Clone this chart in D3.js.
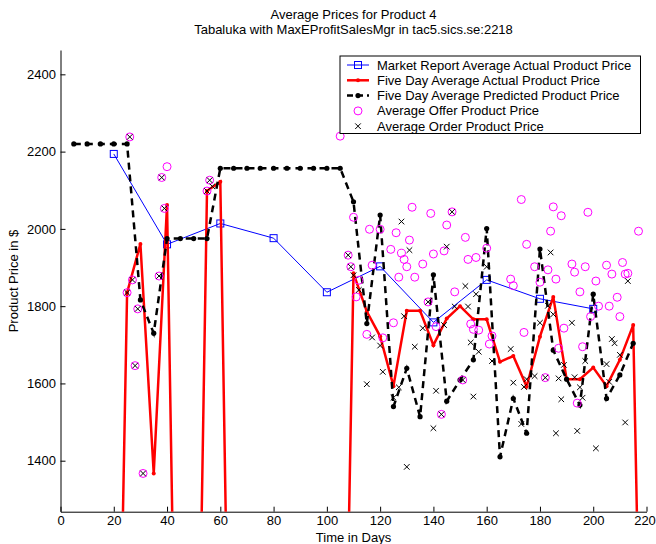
<!DOCTYPE html>
<html>
<head>
<meta charset="utf-8">
<script src="https://cdn.jsdelivr.net/npm/d3@7"></script>
<style>
  body { margin: 0; background: #fff; }
  svg text { font-family: "Liberation Sans", Arial, sans-serif; }
</style>
</head>
<body>
<svg width="656" height="544"></svg>
<script>
// day, price
const marketData = [[20, 2194], [40, 1960], [60, 2014], [80, 1976], [100, 1836],
  [120, 1903], [140, 1758], [160, 1868], [180, 1819], [200, 1793]];

const actualDays = [5, 10, 15, 20, 25, 30, 35, 40, 45, 50, 55, 60, 65, 70, 75, 80, 85, 90, 95, 100, 105,
  110, 115, 120, 125, 130, 135, 140, 145, 150, 155, 160, 165, 170, 175, 180, 185, 190, 195, 200, 205, 210, 215, 220];
const actualPrice = [0, 0, 0, 0, 1835, 1961, 1367, 2062, 0, 0, 2098, 2122, 0, 0, 0, 0, 0, 0, 0, 0, 0,
  1885, 1786, 1722, 1593, 1788, 1788, 1699, 1768, 1800, 1766, 1766, 1656, 1671, 1592, 1721, 1824, 1611, 1611, 1641, 1593, 1661, 1751, 0];

const predDays = [5, 10, 15, 20, 25, 30, 35, 40, 45, 50, 55, 60, 65, 70, 75, 80, 85, 90, 95, 100, 105,
  110, 115, 120, 125, 130, 135, 140, 145, 150, 155, 160, 165, 170, 175, 180, 185, 190, 195, 200, 205, 210, 215];
const predPrice = [2220, 2220, 2220, 2220, 2220, 1816, 1730, 1975, 1975, 1975, 1975, 2157, 2157, 2157, 2157, 2157, 2157, 2157, 2157, 2157, 2157,
  2070, 1755, 2036, 1540, 1639, 1514, 1881, 1554, 1609, 1661, 2001, 1410, 1561, 1471, 1948, 1686, 1611, 1544, 1831, 1561, 1622, 1704];

const offers = [[26, 2238], [40, 2161], [38, 2133], [39, 2053], [56, 2126], [55, 2098], [37, 1878], [27, 1868],
  [25, 1835], [29, 1793], [28, 1646], [31, 1367], [105, 2240], [108, 1932], [109, 1902], [110, 2030], [112, 1867],
  [111, 1824], [116, 1999], [120, 1999], [117, 1906], [124, 1947], [126, 1990], [132, 2056], [131, 1971], [128, 1937],
  [129, 1921], [130, 1902], [127, 1875], [133, 1875], [136, 1909], [139, 2040], [147, 2044], [145, 2010], [144, 1943],
  [140, 1935], [152, 1978], [153, 1921], [156, 1926], [160, 1950], [148, 1837], [138, 1811], [125, 1757], [115, 1727],
  [121, 1718], [141, 1747], [154, 1754], [155, 1740], [157, 1738], [161, 1702], [151, 1609], [143, 1520], [173, 2076],
  [185, 2057], [188, 2034], [198, 2043], [217, 1994], [184, 1994], [175, 1960], [178, 1902], [183, 1894], [186, 1870],
  [180, 1862], [192, 1909], [197, 1902], [193, 1888], [205, 1906], [211, 1913], [207, 1883], [212, 1883], [213, 1885],
  [201, 1865], [169, 1870], [170, 1853], [195, 1837], [209, 1823], [202, 1800], [206, 1800], [210, 1773], [199, 1773],
  [189, 1743], [174, 1732], [162, 1723], [187, 1691], [196, 1695], [182, 1615], [194, 1549]];

const orders = [[26, 2238], [38, 2133], [39, 2053], [56, 2126], [55, 2098], [57, 2110], [37, 1878], [27, 1868],
  [25, 1835], [29, 1793], [28, 1646], [31, 1367], [108, 1932], [109, 1902], [147, 2044], [138, 1811], [151, 1609],
  [143, 1520], [182, 1615], [110, 1880], [112, 1842], [128, 2019], [131, 1945], [145, 1954], [160, 1902], [152, 1852],
  [156, 1831], [129, 1774], [117, 1719], [120, 1698], [136, 1743], [133, 1695], [144, 1751], [148, 1799], [153, 1799],
  [154, 1706], [157, 1682], [121, 1630], [115, 1598], [127, 1590], [125, 1563], [141, 1581], [155, 1566], [140, 1484],
  [130, 1384], [184, 1939], [213, 1865], [183, 1801], [185, 1779], [180, 1757], [192, 1757], [169, 1689], [162, 1658],
  [207, 1715], [208, 1704], [210, 1674], [205, 1650], [197, 1658], [189, 1648], [178, 1619], [187, 1613], [170, 1602],
  [175, 1611], [174, 1591], [193, 1616], [195, 1590], [196, 1563], [188, 1559], [206, 1604], [173, 1495], [186, 1471],
  [194, 1477], [201, 1432], [212, 1499]];

const xTicks = [0, 20, 40, 60, 80, 100, 120, 140, 160, 180, 200, 220];
const yTicks = [1400, 1600, 1800, 2000, 2200, 2400];

const legendLabels = ["Market Report Average Actual Product Price", "Five Day Average Actual Product Price",
  "Five Day Average Predicted Product Price", "Average Offer Product Price", "Average Order Product Price"];

const svg = d3.select("svg");
const pLeft = 60.5, pRight = 646.5, pTop = 50, pBottom = 511.7;
const fs = "13px";

const x = d3.scaleLinear().domain([0, 220]).range([pLeft, pRight]);
const y = d3.scaleLinear().domain([1268, 2463]).range([pBottom, pTop]);

svg.append("defs").append("clipPath").attr("id", "plotclip")
  .append("rect").attr("x", pLeft).attr("y", pTop).attr("width", pRight - pLeft).attr("height", pBottom - pTop);

// title
svg.append("text").attr("x", 353.5).attr("y", 19).attr("text-anchor", "middle")
  .style("font-size", fs).text("Average Prices for Product 4");
svg.append("text").attr("x", 353.5).attr("y", 34).attr("text-anchor", "middle")
  .style("font-size", fs).text("Tabaluka with MaxEProfitSalesMgr in tac5.sics.se:2218");

// axes
const xAxis = d3.axisBottom(x).tickValues(xTicks).tickFormat(d3.format("d"))
  .tickSizeInner(-5).tickSizeOuter(0).tickPadding(4);
const yAxis = d3.axisLeft(y).tickValues(yTicks).tickFormat(d3.format("d"))
  .tickSizeInner(-5).tickSizeOuter(0).tickPadding(4.5);

const gx = svg.append("g").attr("transform", "translate(0," + pBottom + ")").call(xAxis);
const gy = svg.append("g").attr("transform", "translate(" + pLeft + ",0)").call(yAxis);
[gx, gy].forEach(g => {
  g.selectAll("text").style("font-size", fs).attr("fill", "#000");
  g.selectAll("line").attr("stroke", "#000");
  g.select(".domain").attr("stroke", "#000");
});
// keep the last x label inside the picture
gx.selectAll(".tick text").filter(d => d === 220).attr("dx", -2);

svg.append("text").attr("x", 353.5).attr("y", 542).attr("text-anchor", "middle")
  .style("font-size", fs).text("Time in Days");
svg.append("text").attr("transform", "translate(18,281) rotate(-90)").attr("text-anchor", "middle")
  .style("font-size", fs).text("Product Price in $");

const plot = svg.append("g").attr("clip-path", "url(#plotclip)");
const line = d3.line().x(d => x(d[0])).y(d => y(d[1]));

// market report
plot.append("path").datum(marketData).attr("d", line)
  .attr("fill", "none").attr("stroke", "#0000ff").attr("stroke-width", 1);
plot.selectAll(".mk").data(marketData).enter().append("rect")
  .attr("x", d => x(d[0]) - 3.5).attr("y", d => y(d[1]) - 3.5)
  .attr("width", 7).attr("height", 7)
  .attr("fill", "none").attr("stroke", "#0000ff").attr("stroke-width", 1);

// five day actual
const actual = actualDays.map((d, i) => [d, actualPrice[i]]);
plot.append("path").datum(actual).attr("d", line)
  .attr("fill", "none").attr("stroke", "#ff0000").attr("stroke-width", 2.5);
plot.selectAll(".ad").data(actual).enter().append("circle")
  .attr("cx", d => x(d[0])).attr("cy", d => y(d[1])).attr("r", 2).attr("fill", "#ff0000");

// five day predicted
const pred = predDays.map((d, i) => [d, predPrice[i]]);
plot.append("path").datum(pred).attr("d", line)
  .attr("fill", "none").attr("stroke", "#000").attr("stroke-width", 2.5)
  .attr("stroke-dasharray", "7,5");
plot.selectAll(".pd").data(pred).enter().append("circle")
  .attr("cx", d => x(d[0])).attr("cy", d => y(d[1])).attr("r", 2.6).attr("fill", "#000");

// offers
plot.selectAll(".of").data(offers).enter().append("circle")
  .attr("cx", d => x(d[0])).attr("cy", d => y(d[1])).attr("r", 4)
  .attr("fill", "none").attr("stroke", "#ff00ff").attr("stroke-width", 1);

// orders
const xs = 2.8;
plot.selectAll(".or").data(orders).enter().append("path")
  .attr("d", d => {
    const cx = x(d[0]), cy = y(d[1]);
    return `M${cx - xs},${cy - xs}L${cx + xs},${cy + xs}M${cx - xs},${cy + xs}L${cx + xs},${cy - xs}`;
  })
  .attr("stroke", "#000").attr("stroke-width", 1);

// legend
const lg = svg.append("g");
lg.append("rect").attr("x", 340).attr("y", 56).attr("width", 300.5).attr("height", 77.5)
  .attr("fill", "#fff").attr("stroke", "#000").attr("stroke-width", 1);
legendLabels.forEach((label, i) => {
  const ly = 65 + i * 15.3;
  lg.append("text").attr("x", 377).attr("y", ly).attr("dy", "0.35em")
    .style("font-size", fs).text(label);
  if (i === 0) {
    lg.append("line").attr("x1", 347).attr("x2", 369).attr("y1", ly).attr("y2", ly)
      .attr("stroke", "#0000ff").attr("stroke-width", 1);
    lg.append("rect").attr("x", 354.5).attr("y", ly - 3.5).attr("width", 7).attr("height", 7)
      .attr("fill", "none").attr("stroke", "#0000ff");
  } else if (i === 1) {
    lg.append("line").attr("x1", 347).attr("x2", 369).attr("y1", ly).attr("y2", ly)
      .attr("stroke", "#ff0000").attr("stroke-width", 2.5);
    lg.append("circle").attr("cx", 358).attr("cy", ly).attr("r", 2).attr("fill", "#ff0000");
  } else if (i === 2) {
    lg.append("line").attr("x1", 347).attr("x2", 369).attr("y1", ly).attr("y2", ly)
      .attr("stroke", "#000").attr("stroke-width", 2.5).attr("stroke-dasharray", "6,4");
    lg.append("circle").attr("cx", 358).attr("cy", ly).attr("r", 2.6).attr("fill", "#000");
  } else if (i === 3) {
    lg.append("circle").attr("cx", 358).attr("cy", ly).attr("r", 4)
      .attr("fill", "none").attr("stroke", "#ff00ff");
  } else {
    lg.append("path")
      .attr("d", `M${358 - xs},${ly - xs}L${358 + xs},${ly + xs}M${358 - xs},${ly + xs}L${358 + xs},${ly - xs}`)
      .attr("stroke", "#000");
  }
});
</script>
</body>
</html>
